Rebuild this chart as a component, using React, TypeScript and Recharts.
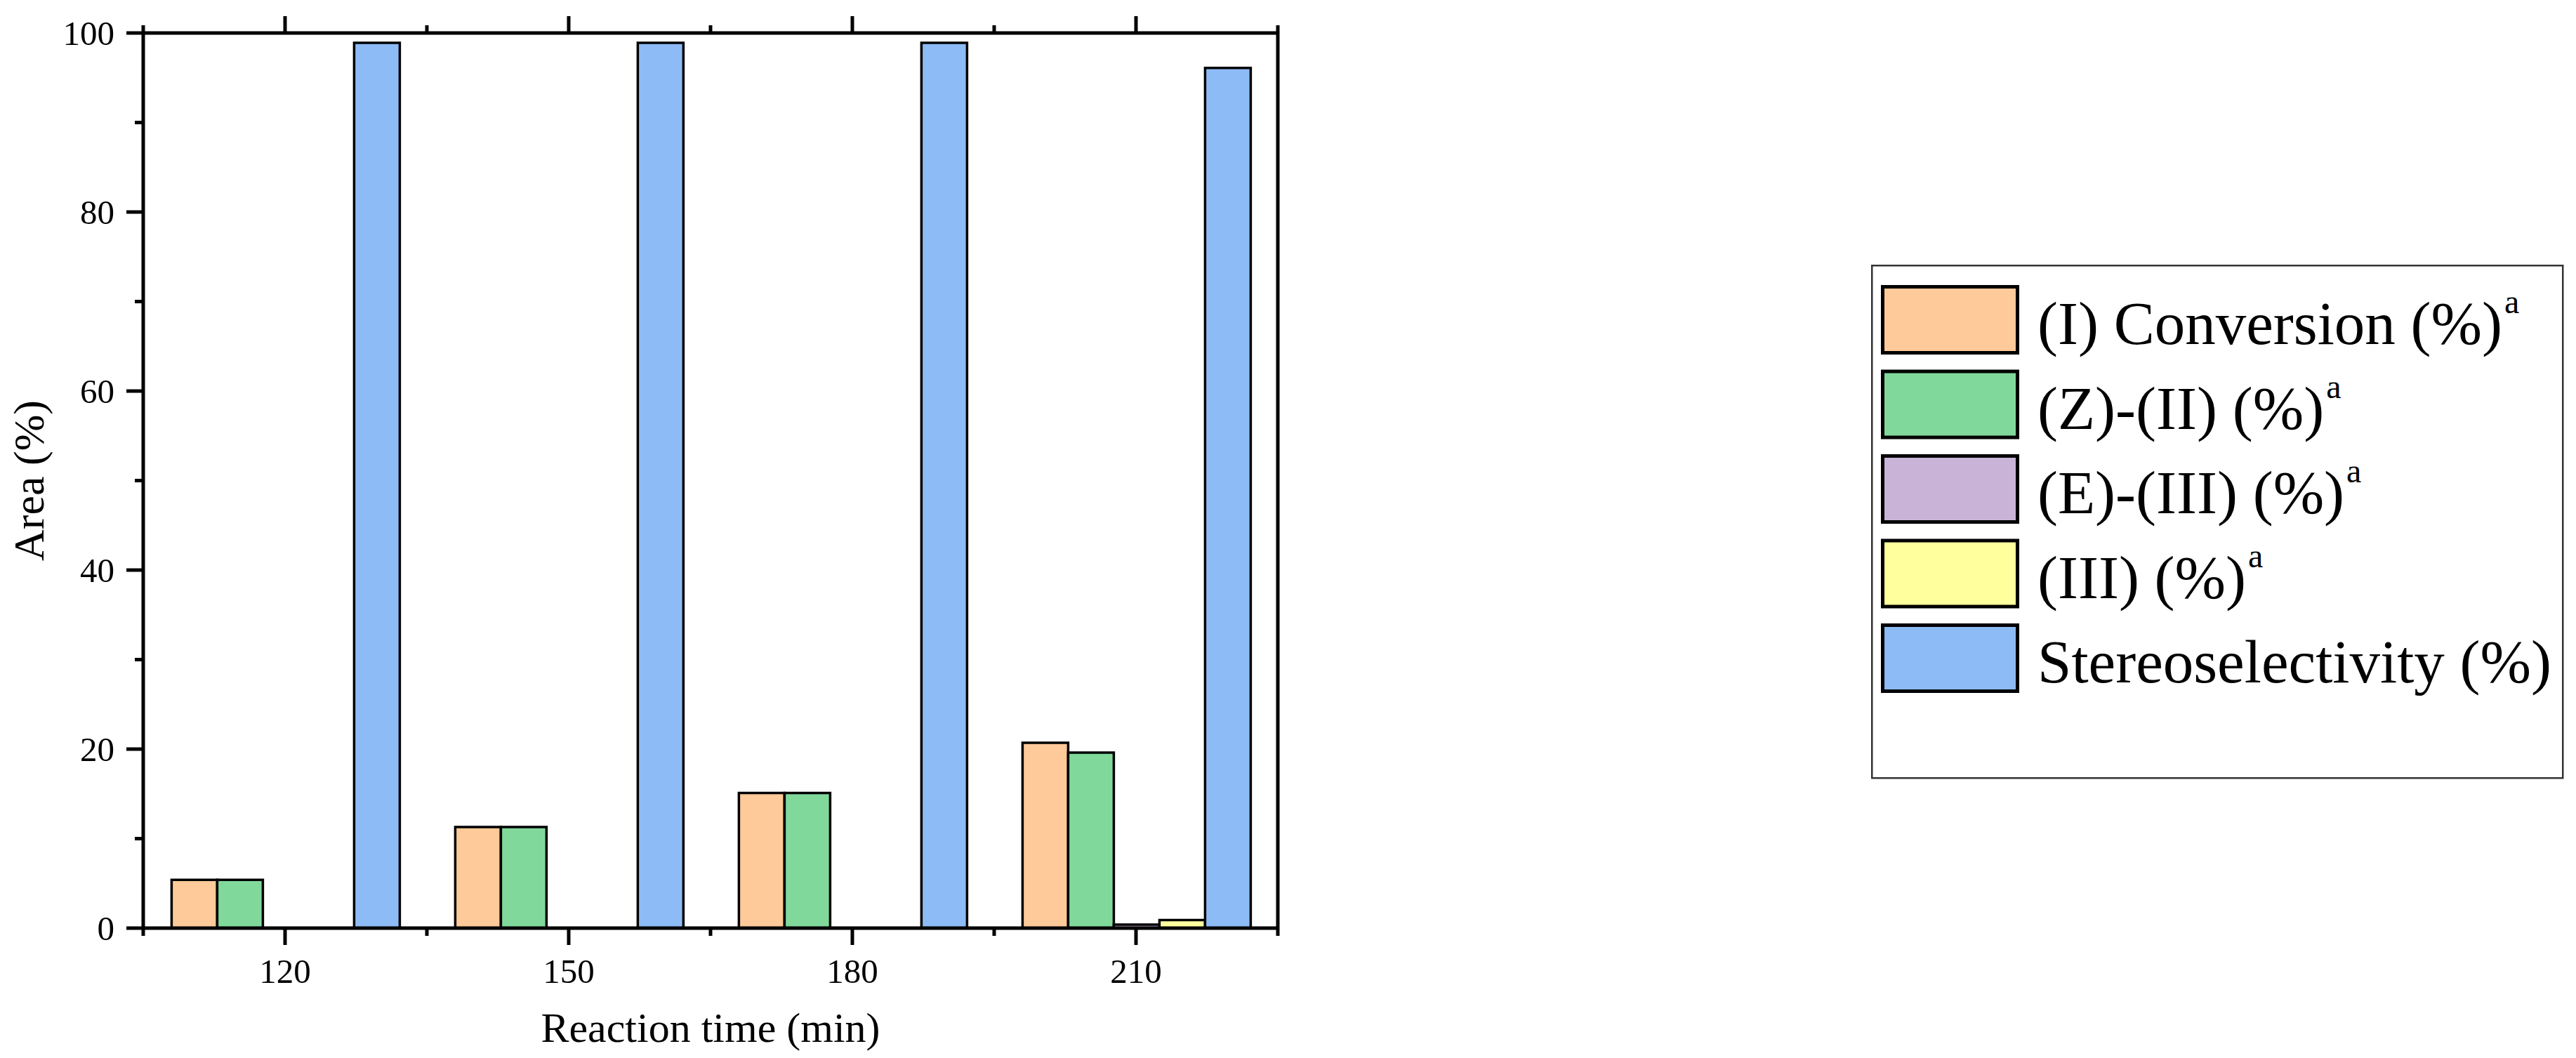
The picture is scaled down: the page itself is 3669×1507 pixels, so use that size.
import { BarChart, Bar, XAxis, YAxis, Legend } from 'recharts';

// Reaction time categories (min)
const times = ['120', '150', '180', '210'];

// Area (%) per series
const conversion = [5.4, 11.3, 15.1, 20.7];
const zII = [5.4, 11.3, 15.1, 19.6];
const eIII = [0, 0, 0, 0.4];
const iii = [0, 0, 0, 0.9];
const stereo = [98.9, 98.9, 98.9, 96.1];

const yTicks = [0, 10, 20, 30, 40, 50, 60, 70, 80, 90, 100];

const seriesNames = [
  { key: 'conversion', label: '(I) Conversion (%)', sup: true, color: '#FFCA99' },
  { key: 'zII', label: '(Z)-(II) (%)', sup: true, color: '#80D99B' },
  { key: 'eIII', label: '(E)-(III) (%)', sup: true, color: '#C9B4D8' },
  { key: 'iii', label: '(III) (%)', sup: true, color: '#FFFF9E' },
  { key: 'stereo', label: 'Stereoselectivity (%)', sup: false, color: '#8DBBF5' },
];

const data = times.map((t, i) => ({
  time: t,
  conversion: conversion[i],
  zII: zII[i],
  eIII: eIII[i],
  iii: iii[i],
  stereo: stereo[i],
}));

const FONT = "'Liberation Serif', 'Times New Roman', serif";
const AXIS_W = 5;
const MAJOR = 24;
const MINOR = 12;

function LeftTick(props: any) {
  const { x, y, payload } = props;
  const v = payload.value;
  const major = v % 20 === 0;
  return (
    <g>
      <line x1={x} x2={x - (major ? MAJOR : MINOR)} y1={y} y2={y} stroke="#000" strokeWidth={AXIS_W} />
      {major && (
        <text x={x - 41} y={y} dy="0.34em" textAnchor="end" fontSize={49} fontFamily={FONT} fill="#000">
          {v}
        </text>
      )}
    </g>
  );
}

function RightTick(props: any) {
  const { x, y, payload } = props;
  const major = payload.value % 20 === 0;
  return <line x1={x} x2={x + (major ? MAJOR : MINOR)} y1={y} y2={y} stroke="#000" strokeWidth={AXIS_W} />;
}

function BottomTick(props: any) {
  const { x, y, payload, index, visibleTicksCount } = props;
  const half = payload.offset || 202;
  const last = index === visibleTicksCount - 1;
  return (
    <g>
      <line x1={x} x2={x} y1={y} y2={y + MAJOR} stroke="#000" strokeWidth={AXIS_W} />
      <line x1={x - half} x2={x - half} y1={y} y2={y + MINOR - 1} stroke="#000" strokeWidth={AXIS_W} />
      {last && <line x1={x + half} x2={x + half} y1={y} y2={y + MINOR - 1} stroke="#000" strokeWidth={AXIS_W} />}
      <text x={x} y={y + 78} textAnchor="middle" fontSize={49} fontFamily={FONT} fill="#000">
        {payload.value}
      </text>
    </g>
  );
}

function TopTick(props: any) {
  const { x, y, payload, index, visibleTicksCount } = props;
  const half = payload.offset || 202;
  const last = index === visibleTicksCount - 1;
  return (
    <g>
      <line x1={x} x2={x} y1={y} y2={y - MAJOR} stroke="#000" strokeWidth={AXIS_W} />
      <line x1={x - half} x2={x - half} y1={y} y2={y - MINOR + 1} stroke="#000" strokeWidth={AXIS_W} />
      {last && <line x1={x + half} x2={x + half} y1={y} y2={y - MINOR + 1} stroke="#000" strokeWidth={AXIS_W} />}
    </g>
  );
}

function LegendBox() {
  const rowH = 120.5;
  return (
    <svg width={987} height={733} style={{ display: 'block' }}>
      <rect x={1.25} y={1.25} width={984} height={730} fill="#fff" stroke="#333" strokeWidth={2.5} />
      {seriesNames.map((s, i) => {
        const top = 29 + i * rowH;
        return (
          <g key={s.key}>
            <rect x={16.5} y={top + 2.5} width={192} height={94} fill={s.color} stroke="#000" strokeWidth={5} />
            <text x={237} y={top + 84} fontSize={87} fontFamily={FONT} fill="#000">
              {s.label}
              {s.sup && (
                <tspan fontSize={48} dx={3} dy={-44}>
                  a
                </tspan>
              )}
            </text>
          </g>
        );
      })}
    </svg>
  );
}

export default function App() {
  return (
    <div style={{ position: 'absolute', left: 0, top: 0, width: 3669, height: 1507, background: '#fff' }}>
      <BarChart
        width={3669}
        height={1507}
        data={data}
        margin={{ top: 7, right: 1789, bottom: 0, left: 0 }}
        barCategoryGap="10%"
        barGap={0}
      >
        {seriesNames.map((s) => (
          <Bar
            key={s.key}
            dataKey={s.key}
            name={s.label}
            fill={s.color}
            stroke="#000"
            strokeWidth={3.5}
            isAnimationActive={false}
          />
        ))}
        <XAxis
          dataKey="time"
          height={185}
          axisLine={{ stroke: '#000', strokeWidth: AXIS_W }}
          tickLine={false}
          tickSize={0}
          tickMargin={0}
          interval={0}
          tick={<BottomTick />}
          label={{
            value: 'Reaction time (min)',
            position: 'insideBottom',
            offset: 23,
            fontSize: 60,
            fontFamily: FONT,
            fill: '#000',
          }}
        />
        <XAxis
          xAxisId="top"
          dataKey="time"
          orientation="top"
          height={40}
          axisLine={{ stroke: '#000', strokeWidth: AXIS_W }}
          tickLine={false}
          tickSize={0}
          tickMargin={0}
          interval={0}
          tick={<TopTick />}
        />
        <YAxis
          type="number"
          domain={[0, 100]}
          ticks={yTicks}
          width={204}
          axisLine={{ stroke: '#000', strokeWidth: AXIS_W }}
          tickLine={false}
          tickSize={0}
          tickMargin={0}
          interval={0}
          tick={<LeftTick />}
          label={{
            content: (p: any) => {
              const vb = p.viewBox || {};
              const cy = (vb.y || 47) + (vb.height || 1275) / 2;
              return (
                <text
                  x={62}
                  y={cy}
                  transform={`rotate(-90, 62, ${cy})`}
                  textAnchor="middle"
                  fontSize={62}
                  fontFamily={FONT}
                  fill="#000"
                >
                  Area (%)
                </text>
              );
            },
          }}
        />
        <YAxis
          yAxisId="right"
          orientation="right"
          type="number"
          domain={[0, 100]}
          ticks={yTicks}
          width={60}
          axisLine={{ stroke: '#000', strokeWidth: AXIS_W }}
          tickLine={false}
          tickSize={0}
          tickMargin={0}
          interval={0}
          tick={<RightTick />}
        />
        <Legend
          layout="horizontal"
          verticalAlign="middle"
          align="center"
          wrapperStyle={{ left: 2665, top: 377, width: 987, height: 733 }}
          content={() => <LegendBox />}
        />
      </BarChart>
    </div>
  );
}
